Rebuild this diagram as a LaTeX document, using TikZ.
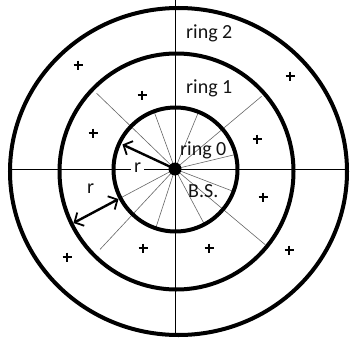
\documentclass[tikz,border=0pt]{standalone}
\usepackage{fontspec}
\setmainfont{Carlito}
\usetikzlibrary{arrows.meta,calc}
\tikzset{
  ring/.style={line width=4pt, black},
  axis/.style={line width=0.9pt, black},
  spoke/.style={line width=0.6pt, gray!80!black},
  lbl/.style={anchor=base west, inner sep=0pt, text=black!92, font=\fontsize{20}{24}\selectfont},
  rarrow/.style={line width=2.4pt, black},
  barb/.tip={Straight Barb[length=7pt,width=15pt,line width=1.8pt]},
  pics/plussign/.style={code={
    \draw[line width=2.4pt, black] (-4.5,0) -- (4.5,0) (0,-4.5) -- (0,4.5);}}
}
\begin{document}
\begin{tikzpicture}[x=1pt,y=-1pt]
\useasboundingbox (0,0) rectangle (351,340);
\coordinate (c) at (175,169);
\coordinate (axT) at (175,0);
\coordinate (axB) at (175,333);
\coordinate (axL) at (12,169);
\coordinate (axR) at (347,169);
% axes
\draw[axis] (axT) -- (axB);
\draw[axis] (axL) -- (axR);
% spokes inside ring 0
\foreach \a in {13.5,67.6,110,208,252,298,339}
  \draw[spoke] (c) -- ++(-\a:62);
% long spokes to ring 1
\foreach \a/\r in {40/113,136/109,227/110,320/118}
  \draw[spoke] (c) -- ++(-\a:\r);
% rings
\draw[ring] (178.5,171.5) ellipse[x radius=168.5, y radius=163.5];
\draw[ring] (176.5,171.5) ellipse[x radius=117, y radius=118];
\draw[ring] (175.5,169.5) circle[radius=62];
% centre
\fill[black] (c) circle[radius=6.5];
% r labels
\node[lbl, fill=white, inner xsep=3pt, anchor=base] (r1) at (137.5,172) {r};
\node[lbl] (r2) at (87,193) {r};
% arrows
\coordinate (a1) at ($(c)+(-155:58)$);
\draw[rarrow, -{barb}] (c) -- (a1);
\coordinate (b1) at ($(c)+(-208:64)$);
\coordinate (b2) at ($(c)+(-208:115)$);
\draw[rarrow, {barb}-{barb}] (b2) -- (b1);
% ring labels
\node[lbl] (l2) at (186,38) {ring 2};
\node[lbl] (l1) at (186,93) {ring 1};
\node[lbl] (l0) at (180,155) {ring 0};
\node[lbl] (bs) at (188,197) {B.S.};
% plus signs
\foreach \x/\y in {78/65,290/76,142/95,93/133,257/139,263/197,143/248,209/248,67/257,289/250}
  \pic at (\x,\y) {plussign};
\end{tikzpicture}
\end{document}
